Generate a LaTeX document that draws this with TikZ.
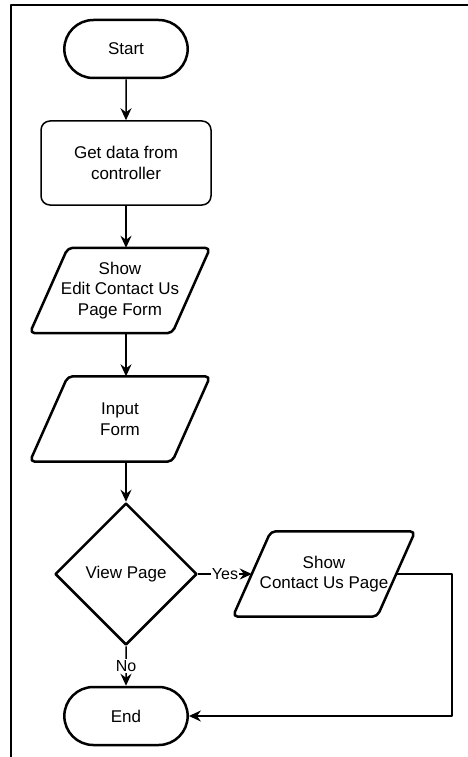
\documentclass[tikz,border=0pt]{standalone}
\usepackage{fontspec}
\setmainfont{Liberation Sans}
\usetikzlibrary{shapes.geometric,shapes.misc,arrows.meta}
\begin{document}
\begin{tikzpicture}[x=1pt, y=-1pt, line join=round,
    font=\fontsize{17}{20.5}\selectfont,
    term/.style={rounded rectangle, draw, line width=2.5pt, minimum width=130pt, minimum height=58pt},
    proc/.style={rectangle, rounded corners=9pt, draw, line width=1.5pt, minimum width=170pt, minimum height=84pt, align=center},
    io/.style={rectangle, minimum width=142pt, minimum height=85pt, align=center, inner sep=0pt},
    iobox/.style={line width=2.5pt, rounded corners=5pt},
    decide/.style={diamond, draw, line width=2.5pt, minimum width=142pt, minimum height=142pt, inner sep=0pt},
    arr/.style={-{Stealth[length=12pt,width=11pt,inset=4pt]}, line width=1.5pt},
    lbl/.style={fill=white, inner sep=1pt, font=\fontsize{16}{18}\selectfont}]
    \useasboundingbox (0,0) rectangle (468,757);
    \draw[line width=2pt] (11,757) -- (11,5.5) -- (468,5.5);
    \node[term] (start) at (126,49) {Start};
    \node[proc] (data) at (126,163) {Get data from\\controller};
    \node[io] (show) at (120,290.5) {Show\\Edit Contact Us\\Page Form};
    \node[io] (input) at (120,419) {Input\\Form};
    \node[decide] (view) at (126,574) {View Page};
    \node[io, minimum width=144pt] (page) at (324,574) {Show\\Contact Us Page};
    \node[term] (end) at (126,716) {End};
    \foreach \io in {show, input, page}
        \draw[iobox] ([xshift=-19pt]\io.south west) -- ([xshift=19pt]\io.north west)
            -- ([xshift=19pt]\io.north east) -- ([xshift=-19pt]\io.south east) -- cycle;
    \draw[arr] (start) -- (data);
    \draw[arr] (data) -- (data |- show.north);
    \draw[arr] (show.south -| data) -- (input.north -| data);
    \draw[arr] (input.south -| data) -- (view);
    \draw[arr] (view) -- node[lbl] {Yes} (page.west);
    \draw[arr] (view) -- node[lbl] {No} (end);
    \draw[arr] (page.east) -- ++(56,0) |- (end.east);
\end{tikzpicture}
\end{document}
